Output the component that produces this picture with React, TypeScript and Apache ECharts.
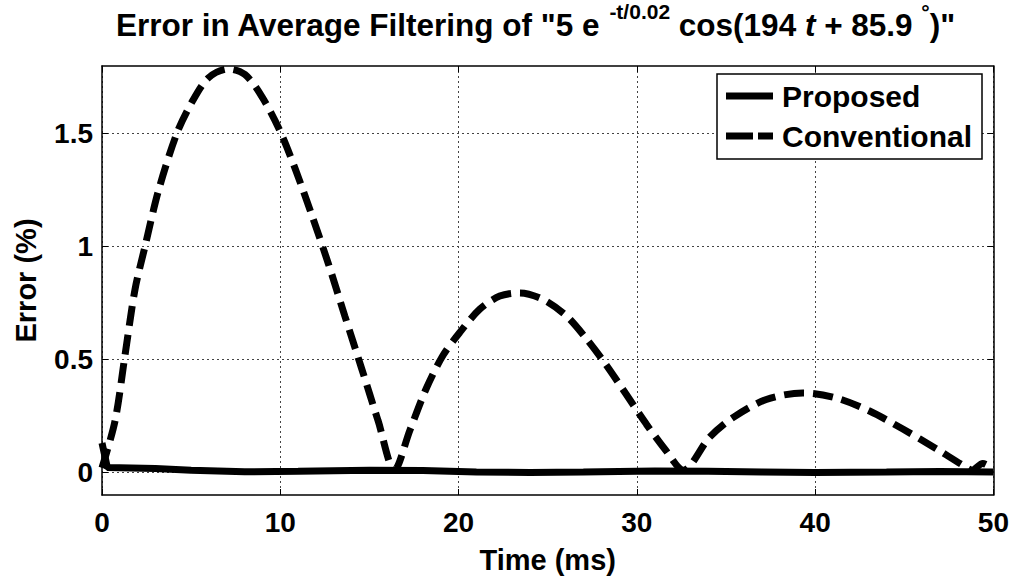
import React, { useEffect, useRef } from "react";
import * as echarts from "echarts";

const convTime = [0, 0.73, 1.29, 1.85, 2.41, 3.16, 4.19, 5.03, 5.96, 7.08, 8.02, 8.95, 9.94, 10.82, 11.75, 12.69, 13.62, 14.56, 15.49, 16.4, 17.26, 18.2, 19.13, 20.07, 21.19, 22.31, 23.43, 24.74, 26.05, 27.17, 28.29, 29.41, 30.53, 31.63, 32.6, 34.08, 35.39, 37.26, 39.31, 41.18, 43.05, 44.92, 46.79, 48.28, 48.8, 49.4, 50];
const convValues = [0.02, 0.228, 0.519, 0.81, 1.0, 1.246, 1.5, 1.638, 1.747, 1.787, 1.762, 1.667, 1.52, 1.348, 1.144, 0.926, 0.693, 0.461, 0.228, 0.01, 0.185, 0.374, 0.519, 0.62, 0.723, 0.781, 0.795, 0.766, 0.693, 0.592, 0.475, 0.345, 0.214, 0.097, 0.01, 0.156, 0.243, 0.323, 0.352, 0.33, 0.272, 0.192, 0.105, 0.032, 0.01, 0.04, 0.015];

const propTime = [0, 0.3, 3, 5, 8, 11, 15, 18, 21, 24, 27, 31, 34, 37, 40, 44, 47, 50];
const propValues = [0.13, 0.022, 0.017, 0.01, 0.003, 0.005, 0.01, 0.008, 0.002, 0.0, 0.002, 0.006, 0.005, 0.002, 0.0, 0.002, 0.004, 0.002];

const yTicks = [0, 0.5, 1, 1.5];
const xMin = 0, xMax = 50, xInterval = 10;
const yMin = -0.1, yMax = 1.8;

const FONT = "Liberation Sans, Arial, sans-serif";

export default function App() {
  const ref = useRef<HTMLDivElement>(null);
  useEffect(() => {
    if (!ref.current) return;
    const chart = echarts.init(ref.current, null, { renderer: "svg" });
    const conv = convTime.map((t, i) => [t, convValues[i]]);
    const prop = propTime.map((t, i) => [t, propValues[i]]);
    const gridLine = { show: true, lineStyle: { color: "#444", width: 1, type: [2, 3] as any } };
    const axisLine = { show: true, onZero: false, lineStyle: { color: "#000", width: 1.5 } };
    const tick = { show: true, inside: true, length: 6, lineStyle: { color: "#000", width: 1 } };
    const label = { fontSize: 28, fontWeight: "bold" as const, color: "#000", fontFamily: FONT };
    const base = { fontSize: 31.5, fontWeight: "bold", color: "#000", fontFamily: FONT, verticalAlign: "bottom", lineHeight: 40 };
    chart.setOption({
      animation: false,
      backgroundColor: "#fff",
      title: {
        left: 116,
        top: 1,
        padding: 0,
        text: '{a|Error in Average Filtering of "5 e }{sup|-t/0.02}{a| cos(194 }{it|t}{a| + 85.9 }{sup|°}{a|)"}',
        textStyle: {
          rich: {
            a: base,
            it: { ...base, fontStyle: "italic" },
            sup: { ...base, fontSize: 21, lineHeight: 22, verticalAlign: "top" },
          },
        },
      },
      legend: {
        orient: "vertical",
        left: 717,
        top: 74,
        itemWidth: 47,
        itemHeight: 7,
        itemGap: 6,
        padding: [5, 10, 6, 9],
        borderColor: "#000",
        borderWidth: 1.5,
        borderRadius: 0,
        backgroundColor: "#fff",
        itemStyle: { color: "#000", borderWidth: 0 },
        textStyle: { fontSize: 30, fontWeight: "bold", color: "#000", fontFamily: FONT, lineHeight: 34, padding: [0, 0, 0, 4] },
        data: [
          { name: "Proposed", icon: "path://M0,0 H47 V7 H0 Z" },
          { name: "Conventional", icon: "path://M0,0 H27 V7 H0 Z M32,0 H47 V7 H32 Z" },
        ],
      },
      grid: { left: 102, right: 18, top: 66, bottom: 77, containLabel: false },
      xAxis: [
        {
          type: "value", min: xMin, max: xMax, interval: xInterval,
          name: "Time (ms)", nameLocation: "middle", nameGap: 50,
          nameTextStyle: { fontSize: 29, fontWeight: "bold", color: "#000", fontFamily: FONT },
          axisLine, axisTick: tick, axisLabel: { ...label, margin: 13 }, splitLine: gridLine,
        },
        {
          type: "value", min: xMin, max: xMax, interval: xInterval, position: "top",
          axisLine, axisTick: tick, axisLabel: { show: false }, splitLine: { show: false },
        },
      ],
      yAxis: [
        {
          type: "value", min: yMin, max: yMax,
          name: "Error (%)", nameLocation: "middle", nameGap: 62,
          nameTextStyle: { fontSize: 29, fontWeight: "bold", color: "#000", fontFamily: FONT },
          axisLine, axisTick: { ...tick, customValues: yTicks },
          axisLabel: { ...label, margin: 9, customValues: yTicks },
          splitLine: gridLine,
        },
        {
          type: "value", min: yMin, max: yMax, position: "right",
          axisLine, axisTick: { ...tick, customValues: yTicks },
          axisLabel: { show: false, customValues: yTicks }, splitLine: { show: false },
        },
      ],
      series: [
        {
          name: "Proposed", type: "line", data: prop, showSymbol: false, symbol: "none",
          lineStyle: { color: "#000", width: 7, type: "solid" },
          itemStyle: { color: "#000" },
        },
        {
          name: "Conventional", type: "line", data: conv, showSymbol: false, symbol: "none",
          smooth: 0.3,
          lineStyle: { color: "#000", width: 7, type: [20, 9] as any, cap: "butt" },
          itemStyle: { color: "#000" },
        },
      ],
    });
    return () => chart.dispose();
  }, []);
  return <div ref={ref} style={{ width: 1012, height: 579, position: "absolute", left: 0, top: 0 }} />;
}
